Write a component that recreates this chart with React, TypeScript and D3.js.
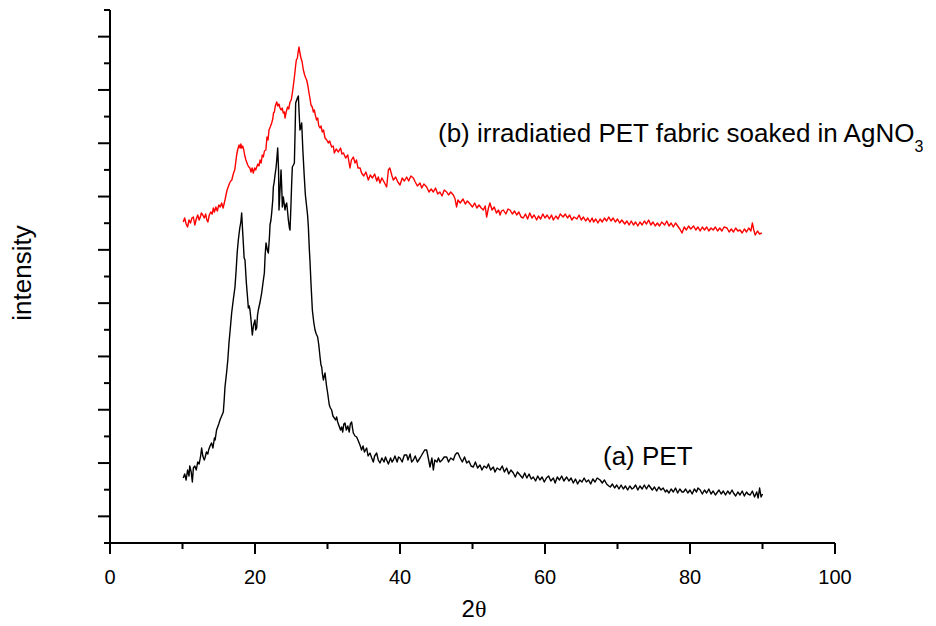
import React from "react";
import * as d3 from "d3";

// 2θ (degrees) and intensity (arbitrary units)
const petData: [number, number][] = [
  [10.1,65],[10.3,69],[10.5,63],[10.7,73],[10.9,67],[11.0,77],[11.2,71],[11.36,61],[11.5,75],[11.7,77],
  [11.9,73],[12.1,81],[12.3,79],[12.5,87],[12.64,95],[12.8,87],[13.0,83],[13.1,85],[13.3,91],[13.5,89],
  [13.6,93],[13.8,97],[14.0,100],[14.2,95],[14.4,105],[14.5,103],[14.7,113],[14.85,116],[15.0,119],[15.17,123],
  [15.4,127],[15.63,131],[15.75,143],[15.86,156],[16.09,171],[16.25,183],[16.41,200],[16.6,215],[16.78,230],[17.0,243],
  [17.24,256],[17.4,273],[17.55,291],[17.7,303],[17.9,315],[18.05,321],[18.16,330],[18.3,311],[18.39,300],[18.5,285],
  [18.62,283],[18.8,261],[19.0,243],[19.08,235],[19.2,237],[19.31,233],[19.45,223],[19.63,208],[19.8,218],[20.0,223],
  [20.1,213],[20.23,215],[20.35,228],[20.46,233],[20.7,241],[20.92,250],[21.1,260],[21.29,270],[21.4,288],[21.52,300],
  [21.7,293],[21.84,290],[22.0,307],[22.07,318],[22.2,323],[22.3,330],[22.45,343],[22.53,356],[22.65,361],[22.76,368],
  [22.9,375],[23.0,383],[23.13,395],[23.25,373],[23.31,333],[23.45,353],[23.59,373],[23.7,353],[23.77,336],[23.91,346],
  [24.05,338],[24.14,333],[24.25,338],[24.37,340],[24.5,331],[24.6,323],[24.75,315],[24.83,313],[24.97,340],[25.05,358],
  [25.15,376],[25.3,378],[25.43,380],[25.55,418],[25.61,440],[25.75,443],[25.85,445],[25.98,447],[26.1,428],[26.2,413],
  [26.3,415],[26.44,420],[26.6,393],[26.8,366],[26.95,348],[27.13,336],[27.25,328],[27.36,316],[27.5,293],[27.59,281],
  [27.72,260],[27.91,233],[28.1,221],[28.28,213],[28.45,209],[28.64,206],[28.8,198],[28.97,186],[29.1,178],[29.2,176],
  [29.3,169],[29.43,163],[29.55,167],[29.66,170],[29.85,158],[30.02,150],[30.15,143],[30.25,138],[30.4,135],[30.57,133],
  [30.75,127],[30.94,125],[31.1,123],[31.26,126],[31.4,121],[31.6,117],[31.8,113],[31.95,116],[32.1,111],[32.25,119],
  [32.41,120],[32.6,113],[32.8,117],[33.0,111],[33.15,119],[33.33,121],[33.45,115],[33.56,110],[33.8,107],[34.02,106],
  [34.2,103],[34.48,98],[34.7,93],[34.9,97],[35.1,91],[35.4,95],[35.6,87],[35.86,90],[36.1,85],[36.32,81],
  [36.5,87],[36.78,90],[37.0,83],[37.24,80],[37.5,85],[37.8,81],[38.0,86],[38.16,83],[38.4,79],[38.7,85],
  [38.9,81],[39.08,83],[39.3,87],[39.6,81],[39.8,86],[40.0,85],[40.3,81],[40.6,88],[40.92,88],[41.1,83],
  [41.4,89],[41.6,81],[41.84,83],[42.1,87],[42.4,81],[42.76,85],[43.0,88],[43.4,93],[43.68,93],[43.9,85],
  [44.14,76],[44.4,85],[44.6,73],[44.8,83],[45.1,81],[45.3,85],[45.52,81],[45.8,83],[46.1,86],[46.44,86],
  [46.7,81],[47.0,85],[47.36,83],[47.6,88],[47.82,90],[48.0,90],[48.3,85],[48.6,81],[48.9,86],[49.2,80],
  [49.5,82],[49.8,77],[50.11,76],[50.4,81],[50.7,75],[51.03,78],[51.3,73],[51.6,77],[51.95,75],[52.2,79],
  [52.5,73],[52.87,76],[53.1,71],[53.4,75],[53.79,73],[54.1,77],[54.4,71],[54.71,75],[55.0,69],[55.3,73],
  [55.63,70],[55.9,66],[56.2,71],[56.55,68],[56.9,65],[57.2,70],[57.5,65],[57.8,69],[58.1,64],[58.39,66],
  [58.7,62],[59.0,67],[59.3,63],[59.6,66],[59.9,61],[60.2,65],[60.5,67],[60.8,62],[61.15,65],[61.4,60],
  [61.7,66],[62.0,63],[62.3,67],[62.6,62],[62.99,66],[63.3,62],[63.6,65],[63.9,60],[64.2,64],[64.5,59],
  [64.8,63],[65.1,61],[65.4,65],[65.7,61],[66.0,63],[66.3,59],[66.6,64],[66.9,61],[67.2,65],[67.6,63],
  [67.9,60],[68.2,63],[68.5,59],[68.8,57],[69.0,56],[69.3,59],[69.6,55],[69.9,58],[70.2,54],[70.5,58],
  [70.8,54],[71.1,57],[71.4,53],[71.7,57],[72.0,54],[72.2,55],[72.5,58],[72.8,53],[73.1,57],[73.4,54],
  [73.7,58],[74.0,54],[74.3,58],[74.5,56],[74.8,53],[75.1,56],[75.4,52],[75.7,56],[76.0,53],[76.3,55],
  [76.6,51],[76.8,53],[77.1,50],[77.4,54],[77.7,51],[78.0,55],[78.3,50],[78.6,54],[78.9,51],[79.1,51],
  [79.4,54],[79.7,50],[80.0,53],[80.3,49],[80.6,54],[80.9,51],[81.1,55],[81.4,53],[81.7,49],[82.0,53],
  [82.3,50],[82.6,54],[82.9,49],[83.2,52],[83.5,48],[83.7,50],[84.0,53],[84.3,49],[84.6,52],[84.9,48],
  [85.2,52],[85.5,49],[85.8,53],[86.0,50],[86.3,47],[86.6,51],[86.9,48],[87.2,52],[87.5,47],[87.8,51],
  [88.0,49],[88.3,48],[88.6,52],[88.9,46],[89.2,51],[89.4,45],[89.6,55],[89.8,46],[90.0,49],
];

const agData: [number, number][] = [
  [10.1,321],[10.3,325],[10.5,319],[10.7,316],[10.9,323],[11.1,320],[11.3,325],[11.5,326],[11.7,318],[11.9,324],
  [12.1,328],[12.3,323],[12.5,327],[12.6,330],[12.8,328],[13.0,325],[13.2,329],[13.35,323],[13.5,321],[13.7,328],
  [13.9,331],[14.1,329],[14.25,335],[14.4,331],[14.6,336],[14.8,332],[15.0,338],[15.2,336],[15.4,340],[15.6,335],
  [15.86,343],[16.0,348],[16.15,353],[16.3,356],[16.5,360],[16.65,362],[16.8,363],[17.0,369],[17.2,373],[17.35,381],
  [17.47,388],[17.6,393],[17.8,398],[17.95,395],[18.05,399],[18.16,395],[18.3,397],[18.45,393],[18.6,387],[18.75,383],
  [18.85,381],[19.0,378],[19.15,376],[19.3,375],[19.45,371],[19.6,375],[19.77,370],[19.95,375],[20.1,373],[20.23,376],
  [20.4,379],[20.55,377],[20.7,383],[20.85,380],[21.0,388],[21.15,386],[21.3,392],[21.5,393],[21.65,406],[21.8,403],
  [21.93,413],[22.1,416],[22.3,420],[22.45,424],[22.55,430],[22.67,431],[22.8,437],[23.0,441],[23.15,437],[23.3,439],
  [23.45,435],[23.59,433],[23.75,435],[23.9,430],[24.05,431],[24.14,425],[24.3,431],[24.5,436],[24.65,434],[24.83,441],
  [25.0,443],[25.15,450],[25.3,458],[25.5,470],[25.6,477],[25.7,483],[25.85,485],[25.95,491],[26.07,496],[26.2,490],
  [26.34,485],[26.5,481],[26.67,473],[26.85,468],[27.0,465],[27.13,463],[27.3,457],[27.45,450],[27.6,444],[27.72,438],
  [27.9,436],[28.05,431],[28.18,433],[28.35,427],[28.5,423],[28.65,425],[28.8,417],[28.97,415],[29.1,417],[29.29,411],
  [29.45,413],[29.66,405],[29.9,403],[30.11,400],[30.3,402],[30.57,396],[30.8,397],[30.94,390],[31.2,394],[31.5,391],
  [31.8,395],[32.0,389],[32.2,390],[32.5,385],[32.8,388],[33.1,375],[33.3,383],[33.56,386],[33.8,380],[34.0,383],
  [34.2,375],[34.5,375],[34.7,370],[35.0,367],[35.3,371],[35.63,363],[35.9,368],[36.2,365],[36.5,369],[36.8,362],
  [37.0,366],[37.24,360],[37.5,365],[37.8,361],[38.16,356],[38.4,373],[38.6,375],[38.9,367],[39.08,363],[39.4,366],
  [39.7,361],[40.0,358],[40.3,365],[40.6,362],[40.92,366],[41.2,362],[41.5,367],[41.84,365],[42.1,361],[42.4,357],
  [42.76,360],[43.0,355],[43.3,359],[43.68,356],[44.0,351],[44.3,354],[44.6,351],[44.9,355],[45.2,349],[45.5,351],
  [45.8,347],[46.1,353],[46.44,351],[46.7,348],[47.0,351],[47.36,348],[47.6,344],[47.8,336],[48.0,343],[48.3,340],
  [48.7,344],[49.0,339],[49.3,342],[49.66,339],[50.0,336],[50.3,340],[50.6,335],[50.9,338],[51.2,335],[51.5,333],
  [51.75,337],[51.95,326],[52.2,335],[52.4,340],[52.7,333],[53.0,336],[53.3,330],[53.6,333],[53.8,328],[54.0,332],
  [54.25,333],[54.6,329],[54.9,334],[55.17,333],[55.5,329],[55.8,332],[56.1,328],[56.4,331],[56.7,326],[57.0,325],
  [57.3,329],[57.6,324],[57.9,330],[58.2,325],[58.5,328],[58.85,323],[59.1,327],[59.4,324],[59.7,329],[60.0,325],
  [60.3,328],[60.6,324],[60.9,328],[61.15,323],[61.5,327],[61.8,324],[62.1,329],[62.5,326],[62.8,329],[63.1,325],
  [63.4,328],[63.7,323],[64.0,326],[64.4,324],[64.7,328],[65.0,323],[65.3,326],[65.6,322],[65.9,325],[66.2,321],
  [66.5,325],[66.7,321],[67.0,324],[67.3,320],[67.6,324],[67.9,321],[68.2,325],[68.5,322],[68.8,326],[69.1,322],
  [69.4,325],[69.7,321],[70.0,324],[70.3,320],[70.6,323],[71.0,319],[71.3,322],[71.6,318],[71.9,322],[72.2,318],
  [72.5,321],[72.8,317],[73.1,321],[73.4,318],[73.7,322],[74.0,319],[74.3,323],[74.6,318],[74.9,321],[75.2,317],
  [75.5,320],[75.8,317],[76.1,321],[76.5,318],[76.8,322],[77.1,317],[77.4,320],[77.7,316],[78.0,320],[78.3,317],
  [78.6,314],[78.9,310],[79.2,316],[79.5,313],[79.8,317],[80.1,314],[80.5,317],[80.8,313],[81.1,316],[81.4,312],
  [81.7,316],[82.0,313],[82.3,316],[82.6,312],[82.9,315],[83.2,313],[83.5,316],[83.8,312],[84.1,315],[84.4,312],
  [84.7,316],[85.1,315],[85.4,311],[85.7,314],[86.0,311],[86.3,315],[86.6,312],[86.9,313],[87.2,310],[87.5,314],
  [87.8,311],[88.1,315],[88.4,312],[88.6,320],[88.8,313],[89.0,308],[89.3,312],[89.6,309],[89.9,310],
];

const xTicksMajor = [0, 20, 40, 60, 80, 100];
const xTicksMinor = [10, 30, 50, 70, 90];
const yTickCount = 20;

const labelA = "(a) PET";
const labelB = "(b) irradiatied PET fabric soaked in AgNO";
const labelBSub = "3";
const xTitle = "2";
const xTitleSym = "θ";
const yTitle = "intensity";

export default function App() {
  const W = 936, H = 626;
  const x = d3.scaleLinear().domain([0, 100]).range([110, 835]);
  const y = d3.scaleLinear().domain([0, 533]).range([543, 10]);
  const line = d3.line<[number, number]>().x(d => x(d[0])).y(d => y(d[1]));
  const yTicks = d3.range(0, yTickCount + 1).map(i => (i * 533) / yTickCount);
  const font = "Liberation Sans, Arial, sans-serif";

  return (
    <svg width={W} height={H} style={{ position: "absolute", left: 0, top: 0, background: "#fff" }}>
      <rect x={0} y={0} width={W} height={H} fill="#fff" />
      {/* data */}
      <path d={line(agData) || ""} fill="none" stroke="#ff0000" strokeWidth={1.4} strokeLinejoin="round" />
      <path d={line(petData) || ""} fill="none" stroke="#000" strokeWidth={1.4} strokeLinejoin="round" />

      {/* y axis */}
      <line x1={x(0)} x2={x(0)} y1={y(533)} y2={y(0) + 11} stroke="#000" strokeWidth={2} />
      {yTicks.map((t, i) => (
        <line key={"yt" + i} x1={x(0) - (i % 2 === 1 ? 12 : 6)} x2={x(0)} y1={y(t)} y2={y(t)} stroke="#000" strokeWidth={2} />
      ))}
      {/* x axis */}
      <line x1={x(0)} x2={x(100)} y1={y(0)} y2={y(0)} stroke="#000" strokeWidth={2} />
      {xTicksMajor.map(t => (
        <line key={"xM" + t} x1={x(t)} x2={x(t)} y1={y(0)} y2={y(0) + 11} stroke="#000" strokeWidth={2} />
      ))}
      {xTicksMinor.map(t => (
        <line key={"xm" + t} x1={x(t)} x2={x(t)} y1={y(0)} y2={y(0) + 6} stroke="#000" strokeWidth={2} />
      ))}
      {xTicksMajor.map(t => (
        <text key={"xl" + t} x={x(t)} y={584} textAnchor="middle" fontFamily={font} fontSize={20} fill="#000">{t}</text>
      ))}

      {/* titles */}
      <text x={474} y={617} textAnchor="middle" fontFamily={font} fontSize={24} fill="#000">
        {xTitle}<tspan fontFamily="Liberation Serif, Times New Roman, serif">{xTitleSym}</tspan>
      </text>
      <text transform="translate(31,273) rotate(-90)" textAnchor="middle" fontFamily={font} fontSize={26} fill="#000">{yTitle}</text>

      {/* annotations */}
      <text x={603} y={465} fontFamily={font} fontSize={26} fill="#000">{labelA}</text>
      <text x={438} y={142} fontFamily={font} fontSize={26} fill="#000">
        {labelB}<tspan fontSize={16} dy={10}>{labelBSub}</tspan>
      </text>
    </svg>
  );
}
